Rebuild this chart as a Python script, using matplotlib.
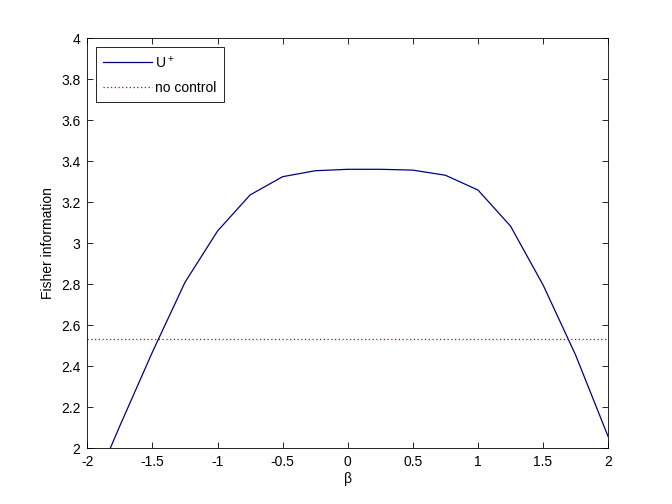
import numpy as np
import matplotlib
matplotlib.use("Agg")
import matplotlib.pyplot as plt

plt.rcParams['font.family'] = ['Liberation Sans', 'DejaVu Sans']
plt.rcParams['mathtext.fontset'] = 'custom'
plt.rcParams['mathtext.rm'] = 'Liberation Sans'
plt.rcParams['mathtext.default'] = 'regular'

# data
beta = [-2.0, -1.75, -1.5, -1.25, -1.0, -0.75, -0.5, -0.25, 0.0,
        0.25, 0.5, 0.75, 1.0, 1.25, 1.5, 1.75, 2.0]
fisher = [1.74, 2.11, 2.47, 2.81, 3.06, 3.236, 3.325, 3.354, 3.361,
          3.361, 3.357, 3.332, 3.26, 3.084, 2.797, 2.455, 2.057]
no_control = 2.532

fig = plt.figure(figsize=(6.72, 5.04), dpi=100)
ax = fig.add_axes([0.13, 0.1105, 0.775, 0.8135])

ax.plot(beta, fisher, color=(0, 0, 0.5), lw=0.9, label='U$^+$')
ax.axhline(no_control, color=(0.6, 0.1, 0.1), lw=0.9, ls=(0, (1, 2)), label='no control')

ax.set_xlim(-2, 2)
ax.set_ylim(2, 4)
ax.set_xticks(np.arange(-2, 2.01, 0.5))
ax.set_yticks(np.arange(2, 4.01, 0.2))
ax.set_xticklabels(['-2', '-1.5', '-1', '-0.5', '0', '0.5', '1', '1.5', '2'])
ax.set_yticklabels(['2', '2.2', '2.4', '2.6', '2.8', '3', '3.2', '3.4', '3.6', '3.8', '4'])
ax.tick_params(direction='in', top=True, right=True, length=4, width=0.6, labelsize=10, pad=5)
for s in ax.spines.values():
    s.set_linewidth(0.6)

ax.set_xlabel('β', fontsize=10, labelpad=2)
ax.set_ylabel('Fisher information', fontsize=10, labelpad=4)

leg = ax.legend(loc='upper left', fontsize=10, fancybox=False, edgecolor='black',
                framealpha=1, borderaxespad=0.6, handlelength=3.5, handletextpad=0.2,
                borderpad=0.55, labelspacing=0.75)
leg.get_frame().set_linewidth(0.6)

fig.savefig('out.png', dpi=100, facecolor='white')
